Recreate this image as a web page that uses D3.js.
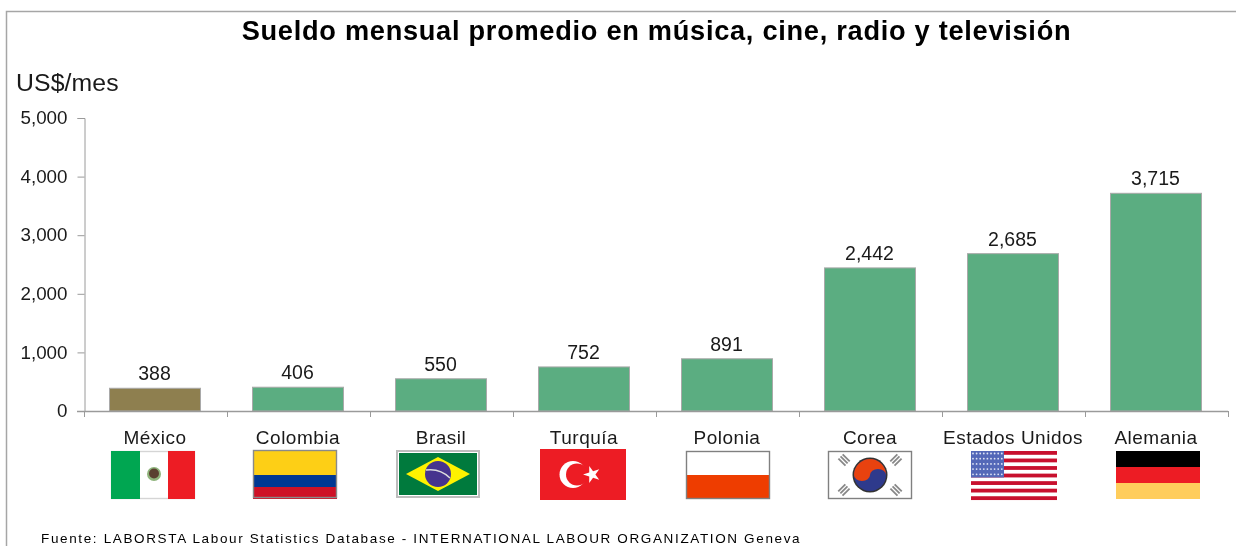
<!DOCTYPE html>
<html><head><meta charset="utf-8">
<script src="https://cdn.jsdelivr.net/npm/d3@7"></script>
<style>
html,body{margin:0;padding:0;background:#fff;overflow:hidden}
svg{display:block;filter:blur(0.35px)}
text{font-family:"Liberation Sans",Arial,sans-serif;fill:#1a1a1a}
</style></head><body>
<svg id="c" width="1236" height="546"></svg>
<script>
const categories = ["México","Colombia","Brasil","Turquía","Polonia","Corea","Estados Unidos","Alemania"];
const flagCodes = ["mx","co","br","tr","pl","kr","us","de"];
const values = [388,406,550,752,891,2442,2685,3715];
const yTicks = [0,1000,2000,3000,4000,5000];
const titleText = "Sueldo mensual promedio en música, cine, radio y televisión";
const unitText = "US$/mes";
const sourceText = "Fuente: LABORSTA Labour Statistics Database - INTERNATIONAL LABOUR ORGANIZATION Geneva";
const barColor = "#5BAD81";
const mexicoColor = "#8E7F4F";
const axisColor = "#9a9a9a";

const svg = d3.select("#c");
const x = d3.scaleBand().domain(categories).range([83.5,1227.5]).paddingInner(52/143).paddingOuter(26/143);
const y = d3.scaleLinear().domain([0,5000]).range([411,118]);

// frame
svg.append("path").attr("d","M6.5,546V11.5H1236").attr("fill","none").attr("stroke","#a6a6a6").attr("stroke-width",1.5);

svg.append("text").attr("x",656.5).attr("y",40).attr("text-anchor","middle")
  .attr("font-size",27.2).attr("font-weight","bold").style("letter-spacing","0.72px").style("fill","#000").text(titleText);
svg.append("text").attr("x",16).attr("y",91).attr("font-size",24.8).style("letter-spacing","0.1px").text(unitText);

// axes
const yAxis = d3.axisLeft(y).tickValues(yTicks).tickSize(7).tickPadding(10).tickFormat(d3.format(","));
const gy = svg.append("g").attr("transform","translate(84.5,0)").call(yAxis);
gy.selectAll("text").attr("font-size",18.8).attr("font-family","Liberation Sans").attr("dy","0.3em");
gy.selectAll("line").attr("stroke",axisColor);
gy.select(".domain").attr("stroke",axisColor);

// bars
svg.selectAll("rect.bar").data(values).join("rect").attr("class","bar")
  .attr("x",(d,i)=>x(categories[i])).attr("width",x.bandwidth())
  .attr("y",d=>y(d)).attr("height",d=>y(0)-y(d))
  .attr("fill",(d,i)=>i===0?mexicoColor:barColor)
  .attr("stroke","#a9a9a9").attr("stroke-width",1);

// x axis baseline and boundary ticks
const step = x.step();
const gx = svg.append("g").attr("stroke",axisColor).attr("fill","none");
gx.append("line").attr("x1",77).attr("x2",1228).attr("y1",411.5).attr("y2",411.5).attr("stroke-width",1.5);
categories.forEach(c=>{
  const bx = Math.round(x(c)+x.bandwidth()/2+step/2)+.5;
  gx.append("line").attr("x1",bx).attr("x2",bx).attr("y1",411).attr("y2",417);
});
gx.append("line").attr("x1",84.5).attr("x2",84.5).attr("y1",411).attr("y2",417);

// labels
svg.selectAll("text.val").data(values).join("text").attr("class","val")
  .attr("x",(d,i)=>x(categories[i])+x.bandwidth()/2-0.5).attr("y",d=>y(d)-8)
  .attr("text-anchor","middle").attr("font-size",19.5).text(d3.format(","));
svg.selectAll("text.cat").data(categories).join("text").attr("class","cat")
  .attr("x",d=>x(d)+x.bandwidth()/2).attr("y",444).attr("text-anchor","middle")
  .attr("font-size",19).style("letter-spacing","0.5px").text(d=>d);

svg.append("text").attr("x",41).attr("y",543).attr("font-size",13.5).style("letter-spacing","1.64px").style("fill","#000").text(sourceText);

// flags
const W=84,H=48;
const flagDraw = {
  mx(g){ box(g,"#fff","#d5d5d5"); r(g,0,0,29,H,"#00A651"); r(g,57,0,27,H,"#ED1C24");
    g.append("circle").attr("cx",43).attr("cy",23).attr("r",7).attr("fill","#8fb47c");
    g.append("circle").attr("cx",43).attr("cy",22.5).attr("r",5).attr("fill","#5a4030"); },
  co(g){ r(g,0,0,W,25,"#FDCF16"); r(g,0,25,W,12,"#003893"); r(g,0,37,W,12,"#CE1126"); frame(g,"#8a8a8a"); },
  br(g){ r(g,0,0,W,H,"#bdbdbd"); r(g,2,2,W-4,H-4,"#fff"); r(g,3,3,W-6,H-6,"#007A3D");
    g.append("path").attr("d",`M10,24L42,7L74,24L42,41Z`).attr("fill","#FFF200");
    g.append("circle").attr("cx",42).attr("cy",24).attr("r",13).attr("fill","#46348E");
    g.append("path").attr("d","M30,20Q44,18 54,28").attr("fill","none").attr("stroke","#ddd").attr("stroke-width",1.5); },
  tr(g){ r(g,0,0,W+2,H+3,"#ED1C24");
    g.append("circle").attr("cx",33).attr("cy",25.5).attr("r",13.5).attr("fill","#fff");
    g.append("circle").attr("cx",37).attr("cy",25.5).attr("r",11).attr("fill","#ED1C24");
    g.append("path").attr("d",d3.symbol(d3.symbolStar,90)()).attr("transform","translate(52,25.5) rotate(-90)").attr("fill","#fff"); },
  pl(g){ r(g,0,0,W,24,"#fff"); r(g,0,24,W,24,"#EE3D00"); frame(g,"#808080"); },
  kr(g){ box(g,"#fff","#808080");
    g.append("circle").attr("cx",42).attr("cy",24).attr("r",17.5).attr("fill","#333");
    g.append("circle").attr("cx",42).attr("cy",24).attr("r",16).attr("fill","#2E3A8C");
    g.append("path").attr("d","M26,24A16,16 0 0 1 58,24A8,6 0 0 0 42,24A8,6 0 0 1 26,24Z").attr("fill","#E8420F");
    [[16,9,45],[68,9,-45],[16,39,-45],[68,39,45]].forEach(([cx,cy,a])=>{
      g.append("g").attr("transform",`translate(${cx},${cy}) rotate(${a})`).selectAll("rect").data([-3,0,3]).join("rect")
        .attr("x",-5).attr("y",d=>d-1).attr("width",10).attr("height",1.8).attr("fill","#888");
    }); },
  us(g){ r(g,0,0,W+2,H+1,"#fff");
    d3.range(7).forEach(i=>r(g,0,i*7.54,W+2,3.8,"#C8102E"));
    r(g,0,0,33,26.5,"#5468B8");
    d3.range(5).forEach(j=>d3.range(9).forEach(i=>g.append("circle").attr("cx",2+i*3.6).attr("cy",2.5+j*5.2).attr("r",.9).attr("fill","#dfe4f5"))); },
  de(g){ r(g,0,0,W,16,"#000"); r(g,0,16,W,16,"#ED1C24"); r(g,0,32,W,16,"#FFCD5C"); }
};
function r(g,a,b,w,h,f){ g.append("rect").attr("x",a).attr("y",b).attr("width",w).attr("height",h).attr("fill",f); }
function frame(g,s){ g.append("rect").attr("x",.5).attr("y",.5).attr("width",W-1).attr("height",H-1).attr("fill","none").attr("stroke",s).attr("stroke-width",1.4); }
function box(g,f,s){ r(g,0,0,W,H,f); frame(g,s); }
const flagLeft = [111,253,396,540,686,828,971,1116];
const flagTop = [451,450,450,449,451,451,451,451];
flagCodes.forEach((c,i)=>{
  const g = svg.append("g").attr("transform",`translate(${flagLeft[i]},${flagTop[i]})`);
  flagDraw[c](g);
});
</script>
</body></html>
